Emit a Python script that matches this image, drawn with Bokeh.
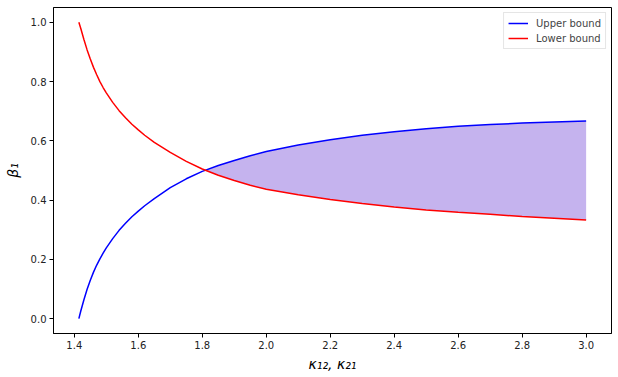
import numpy as np
from bokeh.plotting import figure
from bokeh.models import FixedTicker, NumeralTickFormatter, Legend, LegendItem, Range1d
from bokeh.embed import file_html
from bokeh.resources import INLINE

# kappa values (x)
kappa = [1.4142, 1.42, 1.43, 1.44, 1.45, 1.46, 1.47, 1.48, 1.49, 1.50,
         1.52, 1.54, 1.56, 1.58, 1.60, 1.62, 1.65, 1.70, 1.75, 1.80,
         1.85, 1.90, 1.95, 2.00, 2.10, 2.20, 2.30, 2.40, 2.50, 2.60,
         2.70, 2.80, 2.90, 3.00]
upper_bound = [0.000, 0.025, 0.064, 0.099, 0.130, 0.157, 0.181, 0.202, 0.221, 0.239,
               0.270, 0.298, 0.322, 0.344, 0.363, 0.381, 0.405, 0.442, 0.472, 0.497,
               0.517, 0.534, 0.550, 0.564, 0.586, 0.604, 0.619, 0.631, 0.641, 0.649,
               0.655, 0.660, 0.664, 0.667]
lower_bound = [1.000, 0.980, 0.942, 0.907, 0.876, 0.848, 0.823, 0.800, 0.780, 0.762,
               0.730, 0.702, 0.678, 0.656, 0.637, 0.619, 0.595, 0.561, 0.531, 0.505,
               0.484, 0.466, 0.450, 0.437, 0.418, 0.402, 0.389, 0.377, 0.367, 0.359,
               0.352, 0.345, 0.339, 0.333]
x_ticks = [1.4, 1.6, 1.8, 2.0, 2.2, 2.4, 2.6, 2.8, 3.0]
y_ticks = [0.0, 0.2, 0.4, 0.6, 0.8, 1.0]

x = np.array(kappa)
up = np.array(upper_bound)
lo = np.array(lower_bound)

# region where upper > lower, starting at the crossing point
d = up - lo
i = int(np.argmax(d > 0))
t = -d[i - 1] / (d[i] - d[i - 1])
xc = x[i - 1] + t * (x[i] - x[i - 1])
yc = up[i - 1] + t * (up[i] - up[i - 1])
fx = np.concatenate([[xc], x[i:]])
fu = np.concatenate([[yc], up[i:]])
fl = np.concatenate([[yc], lo[i:]])

xpad = 0.05 * (x.max() - x.min())
p = figure(width=616, height=374, output_backend="svg", toolbar_location=None,
           x_range=Range1d(x.min() - xpad, x.max() + xpad),
           y_range=Range1d(-0.05, 1.05),
           min_border_left=53, min_border_right=5, min_border_top=7, min_border_bottom=41)

p.varea(x=fx, y1=fl, y2=fu, fill_color="#c5b3ee", fill_alpha=1.0)
r_up = p.line(x, up, line_color="blue", line_width=1.5)
r_lo = p.line(x, lo, line_color="red", line_width=1.5)

legend = Legend(items=[LegendItem(label="Upper bound", renderers=[r_up]),
                       LegendItem(label="Lower bound", renderers=[r_lo])],
                location="top_right")
legend.label_text_font = "DejaVu Sans"
legend.label_text_font_size = "10px"
legend.label_height = 12
legend.label_width = 10
legend.label_standoff = 8
legend.glyph_height = 12
legend.glyph_width = 20
legend.spacing = 3
legend.padding = 4
legend.margin = 5
legend.border_line_color = "#cccccc"
legend.background_fill_alpha = 0.8
p.add_layout(legend)

p.xgrid.visible = False
p.ygrid.visible = False
p.outline_line_color = "black"
p.outline_line_alpha = 1.0

p.xaxis.ticker = FixedTicker(ticks=x_ticks)
p.yaxis.ticker = FixedTicker(ticks=y_ticks)
p.xaxis.formatter = NumeralTickFormatter(format="0.0")
p.yaxis.formatter = NumeralTickFormatter(format="0.0")
for ax in (p.xaxis, p.yaxis):
    ax.major_tick_in = 0
    ax.major_tick_out = 4
    ax.minor_tick_line_color = None
    ax.axis_line_color = "black"
    ax.major_tick_line_color = "black"
    ax.major_label_text_font = "DejaVu Sans"
    ax.major_label_text_font_size = "10px"
    ax.major_label_text_color = "#222222"
    ax.major_label_standoff = 3
    ax.axis_label_text_font = "DejaVu Sans"
    ax.axis_label_text_font_size = "14px"
    ax.axis_label_text_font_style = "italic"
    ax.axis_label_text_color = "black"
p.xaxis.axis_label = "κ₁₂, κ₂₁"
p.yaxis.axis_label = "β₁"
p.xaxis.axis_label_standoff = 4
p.yaxis.axis_label_standoff = 7

open("out.html", "w").write(file_html(p, INLINE))
